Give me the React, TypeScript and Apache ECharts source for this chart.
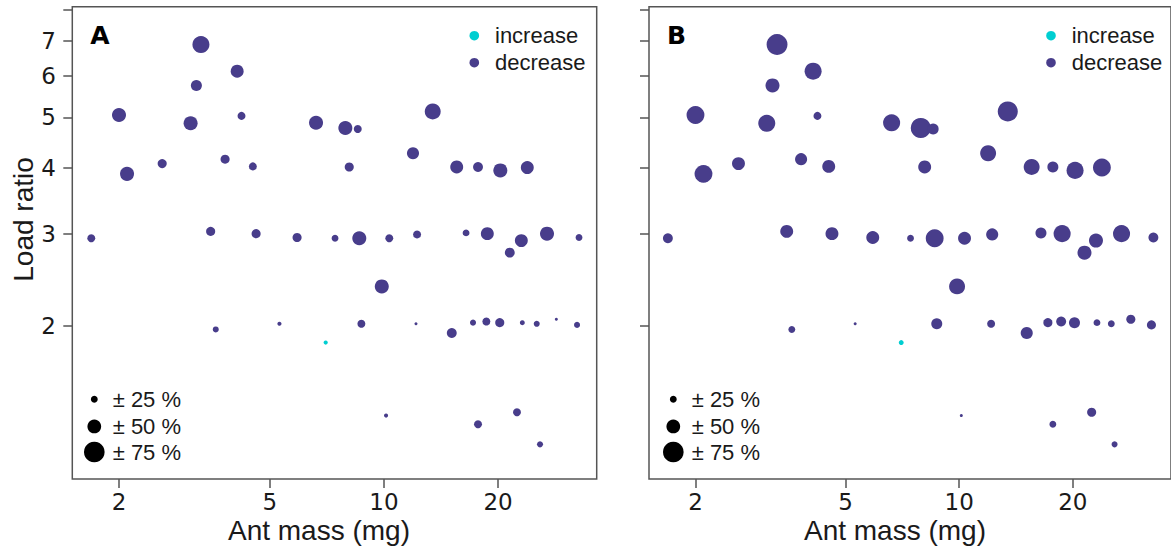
import React, { useEffect, useRef } from "react";
import * as echarts from "echarts";

// Ant mass (mg) for each ant
const mass = [
  1.69, 2.0, 2.1, 2.6, 3.09, 3.2, 3.29, 4.1, 4.21, 3.81, 4.51, 3.49, 4.6, 5.9,
  6.62, 7.91, 8.53, 8.1, 7.43, 8.61, 10.33, 12.23, 11.93, 13.45, 15.56, 17.71, 20.28, 23.89,
  16.47, 18.74, 23.04, 21.48, 26.93, 32.71, 3.6, 5.3,
  9.87, 8.72, 7.02, 12.15, 15.1, 17.18, 18.63, 20.21, 23.18, 25.3, 28.5, 32.32, 10.13, 17.71, 22.44, 25.81,
];
// Load ratio for each ant
const loadRatio = [
  2.94, 5.05, 3.9, 4.08, 4.87, 5.75, 6.88, 6.12, 5.03, 4.16, 4.03, 3.03, 3.0, 2.95,
  4.88, 4.77, 4.75, 4.02, 2.94, 2.94, 2.94, 2.99, 4.27, 5.13, 4.02, 4.02, 3.96, 4.01,
  3.01, 3.0, 2.91, 2.76, 3.0, 2.95, 1.97, 2.02,
  2.38, 2.02, 1.86, 2.02, 1.94, 2.03, 2.04, 2.03, 2.03, 2.02, 2.06, 2.01, 1.35, 1.3, 1.37, 1.19,
];
// % change, panel A
const changeA = [
  29, 51, 51, 33, 51, 40, 62, 47, 29, 33, 29, 33, 33, 33,
  51, 51, 29, 33, 25, 51, 29, 29, 44, 58, 47, 36, 51, 47,
  25, 47, 47, 36, 51, 25, 22, 15,
  51, 29, 15, 11, 36, 22, 29, 33, 18, 22, 11, 22, 15, 29, 29, 22,
];
// % change, panel B
const changeB = [
  36, 65, 65, 47, 62, 51, 76, 62, 29, 44, 47, 47, 47, 47,
  62, 73, 40, 47, 25, 65, 47, 44, 58, 73, 58, 40, 62, 65,
  40, 62, 51, 51, 62, 36, 25, 11,
  58, 40, 18, 29, 44, 33, 36, 40, 25, 25, 33, 33, 11, 25, 33, 22,
];
// direction of change
const direction = [
  "decrease", "decrease", "decrease", "decrease", "decrease", "decrease", "decrease",
  "decrease", "decrease", "decrease", "decrease", "decrease", "decrease", "decrease",
  "decrease", "decrease", "decrease", "decrease", "decrease", "decrease", "decrease",
  "decrease", "decrease", "decrease", "decrease", "decrease", "decrease", "decrease",
  "decrease", "decrease", "decrease", "decrease", "decrease", "decrease", "decrease", "decrease",
  "decrease", "decrease", "increase", "decrease", "decrease", "decrease", "decrease", "decrease",
  "decrease", "decrease", "decrease", "decrease", "decrease", "decrease", "decrease", "decrease",
];

const xTicks = [2, 5, 10, 20];
const yTicks = [2, 3, 4, 5, 6, 7, 8];
const yLabels = [2, 3, 4, 5, 6, 7];
const sizeLegend = [25, 50, 75];
const colorLegend = ["increase", "decrease"];
const panelLetters = ["A", "B"];

const COLORS: Record<string, string> = { increase: "#00CED1", decrease: "#483D8B" };
const SIZE_K = 0.275;
const LX = (v: number) => Math.log10(v);

const X_MIN = LX(1.506);
const X_MAX = LX(36.42);
const Y_MIN = LX(1.022);
const Y_MAX = LX(8.123);

const TICK_COLOR = "#555";
const TEXT_COLOR = "#1a1a1a";
const SANS = "Liberation Sans, Arial, sans-serif";
const TICKFONT = "DejaVu Sans, sans-serif";

const grids = [
  { left: 72.3, top: 6.7, width: 524.4, height: 472.3 },
  { left: 649, top: 6.7, width: 524.4, height: 472.3 },
];

function fmt(v: number) {
  return String(Math.round(Math.pow(10, v)));
}

export default function App() {
  const ref = useRef<HTMLDivElement>(null);
  useEffect(() => {
    if (!ref.current) return;
    document.body.style.margin = "0";
    const chart = echarts.init(ref.current, null, { renderer: "svg" });

    const changes = [changeA, changeB];
    const series: any[] = [];
    const xAxis: any[] = [];
    const yAxis: any[] = [];
    const graphic: any[] = [];

    grids.forEach((g, p) => {
      xAxis.push({
        type: "value",
        gridIndex: p,
        min: X_MIN,
        max: X_MAX,
        axisLine: { show: false },
        splitLine: { show: false },
        axisTick: {
          show: true,
          customValues: xTicks.map(LX),
          length: 9,
          lineStyle: { color: TICK_COLOR, width: 1.5 },
        },
        axisLabel: {
          show: true,
          customValues: xTicks.map(LX),
          formatter: fmt,
          margin: 11,
          color: TEXT_COLOR,
          fontSize: 23,
          fontFamily: TICKFONT,
        },
      });
      yAxis.push({
        type: "value",
        gridIndex: p,
        min: Y_MIN,
        max: Y_MAX,
        axisLine: { show: false },
        splitLine: { show: false },
        axisTick: {
          show: true,
          customValues: yTicks.map(LX),
          length: 9,
          lineStyle: { color: TICK_COLOR, width: 1.5 },
        },
        axisLabel: {
          show: p === 0,
          customValues: yLabels.map(LX),
          formatter: fmt,
          margin: 16.5,
          color: TEXT_COLOR,
          fontSize: 23,
          fontFamily: TICKFONT,
        },
      });

      colorLegend.forEach((dir) => {
        const data: any[] = [];
        mass.forEach((m, i) => {
          if (direction[i] === dir) data.push([LX(m), LX(loadRatio[i]), changes[p][i]]);
        });
        series.push({
          type: "scatter",
          name: dir,
          xAxisIndex: p,
          yAxisIndex: p,
          data,
          symbol: "circle",
          symbolSize: (val: number[]) => val[2] * SIZE_K,
          itemStyle: { color: COLORS[dir], opacity: 1 },
          z: dir === "increase" ? 3 : 2,
        });
      });

      // panel letter
      graphic.push({
        type: "text",
        x: g.left + 18,
        y: 35,
        style: {
          text: panelLetters[p],
          font: "bold 25px DejaVu Sans, sans-serif",
          fill: "#000",
          align: "left",
          verticalAlign: "middle",
        },
      });

      // color legend (top right)
      const lcx = g.left + 402;
      colorLegend.forEach((dir, k) => {
        const cy = 35.7 + k * 27;
        graphic.push({
          type: "circle",
          shape: { cx: lcx, cy, r: 4.8 },
          style: { fill: COLORS[dir] },
        });
        graphic.push({
          type: "text",
          x: lcx + 20.7,
          y: cy,
          style: {
            text: dir,
            font: `22px ${SANS}`,
            fill: TEXT_COLOR,
            align: "left",
            verticalAlign: "middle",
          },
        });
      });

      // size legend (bottom left)
      const scx = p === 0 ? 94.3 : 673.3;
      const ys = [399.3, 426.5, 452];
      sizeLegend.forEach((s, k) => {
        graphic.push({
          type: "circle",
          shape: { cx: scx, cy: ys[k], r: (s * SIZE_K) / 2 },
          style: { fill: "#000" },
        });
        graphic.push({
          type: "text",
          x: scx + 18.4,
          y: ys[k],
          style: {
            text: `± ${s} %`,
            font: `22px ${SANS}`,
            fill: TEXT_COLOR,
            align: "left",
            verticalAlign: "middle",
          },
        });
      });

      // x axis title
      graphic.push({
        type: "text",
        x: p === 0 ? 319 : 895,
        y: 530,
        style: {
          text: "Ant mass (mg)",
          font: `28px ${SANS}`,
          fill: TEXT_COLOR,
          align: "center",
          verticalAlign: "middle",
        },
      });
    });

    // y axis title
    graphic.push({
      type: "text",
      x: 23,
      y: 219.5,
      rotation: Math.PI / 2,
      style: {
        text: "Load ratio",
        font: `28px ${SANS}`,
        fill: TEXT_COLOR,
        align: "center",
        verticalAlign: "middle",
      },
    });

    chart.setOption({
      animation: false,
      backgroundColor: "#fff",
      grid: grids.map((g) => ({
        ...g,
        show: true,
        borderColor: TICK_COLOR,
        borderWidth: 1.5,
        backgroundColor: "transparent",
      })),
      xAxis,
      yAxis,
      series,
      graphic,
    });

    return () => chart.dispose();
  }, []);

  return (
    <div
      ref={ref}
      style={{ width: 1171, height: 552, position: "absolute", left: 0, top: 0 }}
    />
  );
}
